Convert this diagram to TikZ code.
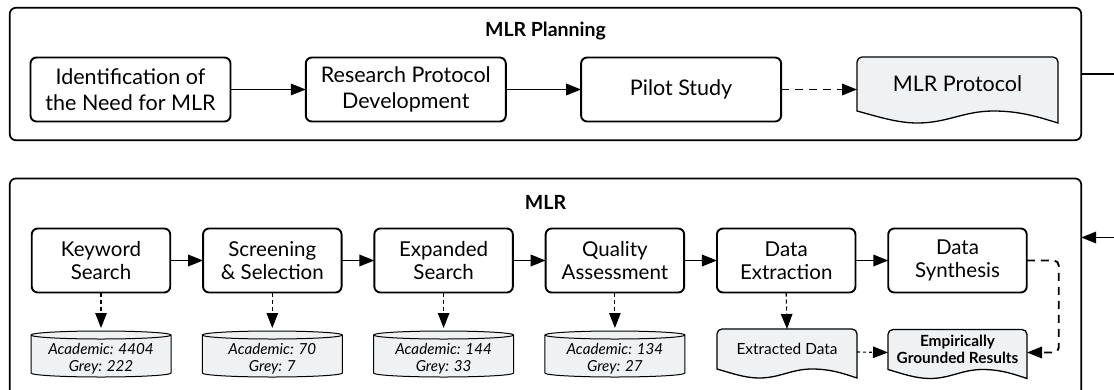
\documentclass[tikz,border=0pt]{standalone}
\usepackage{fontspec}
\setmainfont{Lato}
\usetikzlibrary{arrows.meta,calc}
\definecolor{docfill}{RGB}{240,241,243}
\pgfdeclarelayer{bg}
\pgfsetlayers{bg,main}
\tikzset{
  container/.style={draw, line width=1.7pt, rounded corners=6pt, inner sep=0pt, outer sep=0pt},
  titletext/.style={font=\bfseries\fontsize{19.5}{22}\selectfont, inner sep=0pt},
  stepbox/.style={draw, line width=1.9pt, rounded corners=6pt, align=center, inner sep=1pt, outer sep=0pt,
    minimum height=64pt},
  topbox/.style={stepbox, minimum width=200pt, font=\fontsize{21.5}{25.5}\selectfont},
  lowbox/.style={stepbox, minimum width=138.5pt, font=\fontsize{20.5}{22.5}\selectfont},
  docnode/.style={inner sep=0pt, outer sep=0pt, align=center},
  docline/.style={draw, fill=docfill, line width=1.3pt},
  cylnode/.style={inner sep=0pt, outer sep=0pt, minimum width=140pt, minimum height=55pt, align=center,
    font=\itshape\fontsize{15.2}{16.8}\selectfont},
  cylline/.style={draw, fill=docfill, line width=1pt},
  flow/.style={line width=1.9pt, -{Triangle[length=15pt,width=11.5pt]}},
  dflow/.style={flow, dash pattern=on 8pt off 6pt},
  drop/.style={line width=1.1pt, dash pattern=on 4pt off 3pt, -{Triangle[length=15pt,width=11.5pt]}},
}
\newcommand{\docshape}[3]{%
  \draw[docline] (#1.south west) [rounded corners=5pt] -- (#1.north west) -- (#1.north east) [sharp corners]
    -- ($(#1.south east)+(0,#3)$)
    .. controls ($(#1.south west)+({0.92*#2},{0.6*#3})$) and ($(#1.south west)+({0.82*#2},0)$) .. ($(#1.south west)+({0.68*#2},0)$)
    .. controls ($(#1.south west)+({0.53*#2},0)$) and ($(#1.south west)+({0.45*#2},#3)$) .. ($(#1.south west)+({0.3*#2},#3)$)
    .. controls ($(#1.south west)+({0.2*#2},#3)$) and ($(#1.south west)+({0.1*#2},{0.45*#3})$) .. (#1.south west) -- cycle;}
% cylinder: top ellipse centre 4 below north, bottom ellipse centre 42 below north
\newcommand{\cylshape}[1]{%
  \draw[cylline] ($(#1.north west)+(0,4)$) -- ($(#1.north west)+(0,42)$)
    arc[start angle=180,end angle=360,x radius=70pt,y radius=4pt]
    -- ($(#1.north east)+(0,4)$)
    arc[start angle=0,end angle=180,x radius=70pt,y radius=4pt] -- cycle;
  \draw[line width=1pt] ($(#1.north west)+(0,4)$) arc[start angle=180,end angle=360,x radius=70pt,y radius=4pt];}

\begin{document}
\begin{tikzpicture}[x=1pt,y=-1pt]
\useasboundingbox (0,0) rectangle (1114,389);

% containers
\node[container, minimum width=1071.4pt, minimum height=132.4pt] (plan) at (545.5,74) {};
\node[container, minimum width=1071.4pt, minimum height=222pt] (mlr) at (545.5,289.5) {};
\node[titletext] (plant) at (545.5,31) {MLR Planning};
\node[titletext] (mlrt) at (545.5,202) {MLR};

% planning row
\node[topbox] (ident) at (130.5,89.5) {Identification of\\the Need for MLR};
\node[topbox] (research) at (405.8,89.5) {Research Protocol\\Development};
\node[topbox] (pilot) at (681.1,89.5) {Pilot Study};
\node[docnode, minimum width=201pt, minimum height=54pt, font=\fontsize{21.5}{25.5}\selectfont] (proto) at (957.5,84) {MLR Protocol};

% MLR row
\node[lowbox] (kw) at (101,260.5) {Keyword\\Search};
\node[lowbox] (scr) at (272.3,260.5) {Screening\\\& Selection};
\node[lowbox] (exp) at (443.6,260.5) {Expanded\\Search};
\node[lowbox] (qa) at (614.9,260.5) {Quality\\Assessment};
\node[lowbox] (dex) at (786.2,260.5) {Data\\Extraction};
\node[lowbox] (dsy) at (957.5,260.5) {Data\\Synthesis};

% data stores
\node[cylnode] (c1) at (101,358.5) {Academic: 4404\\Grey: 222};
\node[cylnode] (c2) at (272.3,358.5) {Academic: 70\\Grey: 7};
\node[cylnode] (c3) at (443.6,358.5) {Academic: 144\\Grey: 33};
\node[cylnode] (c4) at (614.9,358.5) {Academic: 134\\Grey: 27};
\node[docnode, minimum width=140pt, minimum height=40pt, font=\fontsize{15.4}{17}\selectfont] (ext) at (787,349) {Extracted Data};
\node[docnode, minimum width=139pt, minimum height=40pt, font=\bfseries\fontsize{15.4}{17}\selectfont] (emp) at (957.5,349.5) {Empirically\\Grounded Results};

\begin{pgfonlayer}{bg}
  \docshape{proto}{201}{12}
  \docshape{ext}{140}{9}
  \docshape{emp}{139}{9}
  \cylshape{c1}
  \cylshape{c2}
  \cylshape{c3}
  \cylshape{c4}
\end{pgfonlayer}

% connectors: planning
\draw[flow] (ident) -- (research);
\draw[flow] (research) -- (pilot);
\draw[dflow] (pilot.east) -- (pilot.east -| proto.west);
\draw[flow] (plan.east) -- ++(45,0) |- ([yshift=-59pt]mlr.north east);

% connectors: MLR
\draw[flow] (kw) -- (scr);
\draw[flow] (scr) -- (exp);
\draw[flow] (exp) -- (qa);
\draw[flow] (qa) -- (dex);
\draw[flow] (dex) -- (dsy);
\draw[drop] (kw.south) -- ([yshift=3pt]c1.north);
\draw[drop] (scr.south) -- ([yshift=3pt]c2.north);
\draw[drop] (exp.south) -- ([yshift=3pt]c3.north);
\draw[drop] (qa.south) -- ([yshift=3pt]c4.north);
\draw[drop] (dex.south) -- (ext.north);
\draw[drop, dash pattern=on 3pt off 3pt] ([yshift=-3pt]ext.east) -- ([yshift=-3pt]emp.west);
\draw[dflow, rounded corners=5pt] (dsy.east) -- ++(32,0) |- ([yshift=-3pt]emp.east);
\end{tikzpicture}
\end{document}
